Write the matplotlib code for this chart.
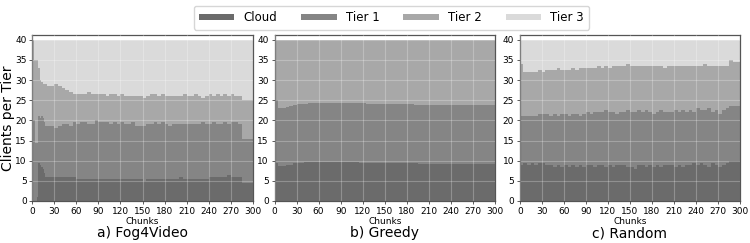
import numpy as np
import matplotlib
matplotlib.use('Agg')
import matplotlib.pyplot as plt

# chunk positions (x) for each policy
chunks_fog = [0, 2, 4, 6, 8, 10, 12, 14, 16, 18] + list(range(20, 301, 5))
chunks = list(range(0, 301, 5))

tiers = ['Cloud', 'Tier 1', 'Tier 2', 'Tier 3']
colors = ['#6b6b6b', '#858585', '#a8a8a8', '#dadada']

# a) Fog4Video - clients per tier
fog_cloud = [0, 0, 0, 1, 9.5, 9, 8.5, 8, 7, 6,
             6, 6, 6, 6, 6, 6, 6, 6, 5.5, 5.5, 5.5, 5.5, 5.5, 5.5, 5.5, 5.5,
             5.5, 5.5, 5.5, 5.5, 5.5, 5.5, 5.5, 5.5, 5.5, 5.5, 5, 5.5, 5.5, 5.5,
             5.5, 5.5, 5.5, 5.5, 5.5, 5.5, 6, 5.5, 5.5, 5.5, 5.5, 5.5, 5.5, 5.5,
             6, 6, 6, 6, 6, 6.5, 6, 6, 6, 4.5, 4.5, 4.5, 4.5]
fog_tier1 = [20, 20, 14.5, 13.5, 11.5, 11.5, 12.5, 12.5, 12.5, 12.5,
             12.5, 12.5, 12, 12.5, 13, 13, 12.5, 13.5, 13.5, 14, 14, 13.5, 13.5, 14.5,
             14, 14, 14, 13.5, 14, 13.5, 14, 13.5, 13.5, 14, 13, 13, 13.5, 13.5,
             13.5, 14, 13.5, 14, 13.5, 13, 13.5, 13.5, 13, 13.5, 13.5, 13.5, 13.5,
             13.5, 14, 13.5, 13, 13.5, 13, 13, 13.5, 12.5, 13.5, 13.5, 13, 11, 11, 11, 11]
fog_tier2 = [20, 15, 20.5, 20.5, 12, 9.5, 8.5, 8.5, 9.5, 10.5,
             10, 10, 11, 10, 9, 8.5, 8.5, 7, 7.5, 7, 7, 8, 7.5, 6.5,
             7, 7, 6.5, 7.5, 7, 7, 7, 7, 7, 6.5, 7.5, 7.5, 7, 7,
             7.5, 7, 7, 7, 7, 7.5, 7, 7, 7, 7.5, 7, 7, 7.5,
             7, 6, 7, 7.5, 6.5, 7.5, 7, 7, 7, 7, 6.5, 7, 9.5, 9.5, 9.5, 9.5]
fog_tier3 = [0, 5, 5, 5, 7, 10, 10.5, 11, 11, 11,
             11.5, 11.5, 11, 11.5, 12, 12.5, 13, 13.5, 13.5, 13.5, 13.5, 13, 13.5, 13.5,
             13.5, 13.5, 14, 13.5, 13.5, 14, 13.5, 14, 14, 14, 14, 14, 14.5, 14,
             13.5, 13.5, 14, 13.5, 14, 14, 14, 14, 14, 13.5, 14, 14, 13.5,
             14, 14.5, 14, 13.5, 14, 13.5, 14, 13.5, 14, 13.5, 14, 14, 15, 15, 15, 15]

# b) Greedy
greedy_cloud = [9.5, 8.8, 8.8, 8.9, 9.0, 9.3, 9.5, 9.5, 9.6, 9.6, 9.7, 9.7, 9.7,
                9.7, 9.7, 9.7, 9.7, 9.7, 9.7, 9.7, 9.7, 9.6, 9.6, 9.5, 9.4, 9.3,
                9.3, 9.3, 9.3, 9.3, 9.3, 9.3, 9.4, 9.4, 9.4, 9.4, 9.4, 9.3, 9.3,
                9.2, 9.2, 9.2, 9.2, 9.1, 9.1, 9.1, 9.2, 9.2, 9.2, 9.2, 9.2, 9.2,
                9.2, 9.2, 9.1, 9.1, 9.1, 9.1, 9.1, 9.1, 9.1]
greedy_tier1 = [15.5, 14.2, 14.4, 14.4, 14.5, 14.5, 14.5, 14.6, 14.5, 14.6, 14.5,
                14.6, 14.6, 14.6, 14.6, 14.6, 14.6, 14.6, 14.6, 14.6, 14.6, 14.8,
                14.7, 14.7, 14.8, 14.8, 14.8, 14.8, 14.8, 14.8, 14.7, 14.7, 14.6,
                14.6, 14.6, 14.6, 14.6, 14.7, 14.6, 14.6, 14.6, 14.6, 14.6, 14.7,
                14.7, 14.7, 14.6, 14.6, 14.6, 14.6, 14.6, 14.6, 14.6, 14.5, 14.6,
                14.6, 14.6, 14.6, 14.6, 14.6, 14.4]
greedy_tier2 = [15.0, 17.0, 16.8, 16.7, 16.5, 16.2, 16.0, 15.9, 15.9, 15.8, 15.8,
                15.7, 15.7, 15.7, 15.7, 15.7, 15.7, 15.7, 15.7, 15.7, 15.7, 15.6,
                15.7, 15.8, 15.8, 15.9, 15.9, 15.9, 15.9, 15.9, 16.0, 16.0, 16.0,
                16.0, 16.0, 16.0, 16.0, 16.0, 16.1, 16.2, 16.2, 16.2, 16.2, 16.2,
                16.2, 16.2, 16.2, 16.2, 16.2, 16.2, 16.2, 16.2, 16.2, 16.3, 16.3,
                16.3, 16.3, 16.3, 16.3, 16.3, 16.5]
greedy_tier3 = [0] * 61

# c) Random
random_cloud = [9, 9.5, 9, 9.5, 9, 9.5, 9.5, 9, 9, 8.5, 9, 8.5, 9, 8.5, 9, 8.5,
                9, 8.5, 9, 9, 8.5, 9, 9, 8.5, 9, 8.5, 9, 9, 9, 8.5, 8.5, 8,
                9, 9, 8.5, 9, 8.5, 9, 8.5, 9, 9, 9, 8.5, 9, 8.5, 9, 9, 9.5,
                9, 9.5, 9, 8.5, 9.5, 9, 8.5, 9, 9.5, 10, 10, 10, 10]
random_tier1 = [12, 11.5, 12, 11.5, 12, 12, 12, 12.5, 12, 13, 12, 13, 12.5, 12.5,
                12.5, 13, 12, 13, 13, 12.5, 13.5, 13, 13, 14, 13, 13.5, 12.5, 13,
                13, 14, 13.5, 14, 13.5, 13, 14, 13, 13, 13, 14, 13, 13, 13, 14,
                13, 14, 13, 13.5, 12.5, 14, 13, 13.5, 14.5, 12.5, 13.5, 13, 13.5,
                13.5, 13.5, 13.5, 13.5, 13.5]
random_tier2 = [13, 11, 11, 11, 11, 11, 10.5, 11, 11.5, 11, 12, 11, 11, 11.5,
                11.5, 11, 12, 11.5, 11, 11.5, 11, 11.5, 11, 11, 11, 11.5, 12, 11.5,
                11.5, 11.5, 11.5, 11.5, 11, 11.5, 11, 11.5, 12, 11.5, 11, 11, 11.5,
                11.5, 11, 11.5, 11, 11.5, 11, 11.5, 10.5, 11, 11.5, 10.5, 11.5, 11,
                12, 11, 10.5, 11.5, 11, 11, 11]
random_tier3 = [6, 8, 8, 8, 8, 7.5, 8, 7.5, 7.5, 7.5, 7, 7.5, 7.5, 7.5, 7, 7.5,
                7, 7, 7, 7, 7, 6.5, 7, 6.5, 7, 6.5, 6.5, 6.5, 6.5, 6, 6.5, 6.5,
                6.5, 6.5, 6.5, 6.5, 6.5, 6.5, 6.5, 7, 6.5, 6.5, 6.5, 6.5, 6.5, 6.5,
                6.5, 6.5, 6.5, 6.5, 6, 6.5, 6.5, 6.5, 6.5, 6.5, 6.5, 5, 5.5, 5.5, 5.5]

panels = [
    ('a) Fog4Video', chunks_fog, [fog_cloud, fog_tier1, fog_tier2, fog_tier3]),
    ('b) Greedy', chunks, [greedy_cloud, greedy_tier1, greedy_tier2, greedy_tier3]),
    ('c) Random', chunks, [random_cloud, random_tier1, random_tier2, random_tier3]),
]

fig = plt.figure(figsize=(7.5, 2.43), dpi=100)
lefts = [0.043, 0.366, 0.693]
width = 0.294
axes = []
for i, (title, x, series) in enumerate(panels):
    ax = fig.add_axes([lefts[i], 0.173, width, 0.683])
    ax.stackplot(x, *series, colors=colors, labels=tiers, step='post', linewidth=0)
    ax.set_xlim(0, 300)
    ax.set_ylim(0, 41.2)
    ax.set_xticks(range(0, 301, 30))
    ax.set_yticks(range(0, 41, 5))
    ax.tick_params(labelsize=6.5, length=2.5, width=0.6, pad=1.5, color='#444444')
    ax.grid(True, color='white', alpha=0.25, linewidth=0.8)
    ax.set_axisbelow(False)
    for s in ax.spines.values():
        s.set_color('#555555')
        s.set_linewidth(0.9)
    ax.set_xlabel('Chunks', fontsize=6.5, labelpad=1)
    # caption under each panel
    fig.text(lefts[i] + width / 2, 0.041, title, ha='center', va='center', fontsize=10)
    axes.append(ax)

# y label placed by hand so it is not clipped at the left edge
fig.text(0.011, 0.515, 'Clients per Tier', rotation=90, ha='center', va='center', fontsize=10)

handles, labels = axes[0].get_legend_handles_labels()
fig.legend(handles, labels, loc='upper center', bbox_to_anchor=(0.522, 1.0), ncol=4,
           fontsize=8.5, handlelength=3.0, handleheight=0.5, columnspacing=2.0,
           frameon=True, edgecolor='#cccccc', fancybox=True, borderpad=0.45)

plt.savefig('out.png', dpi=100)
